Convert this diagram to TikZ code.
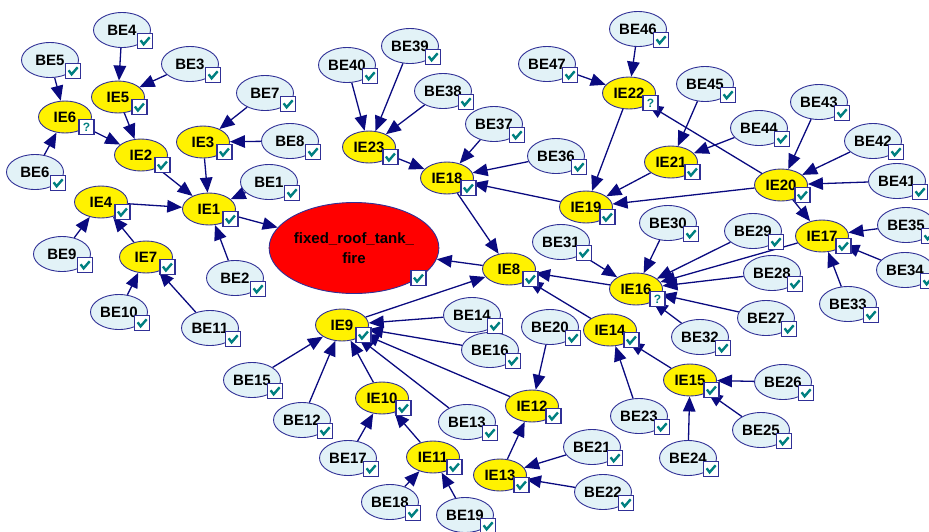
\documentclass[tikz,border=0pt]{standalone}
\usepackage{fontspec}
\setmainfont{Liberation Sans}
\usetikzlibrary{shapes.geometric,arrows.meta}
\definecolor{edgeblue}{RGB}{10,10,128}
\definecolor{rimblue}{RGB}{48,48,150}
\definecolor{befill}{RGB}{226,242,247}
\definecolor{tickteal}{RGB}{0,128,128}

\begin{document}
\begin{tikzpicture}[x=1pt,y=-1pt,
    be/.style={ellipse, draw=rimblue, fill=befill, line width=0.9pt, inner sep=0pt,
      minimum width=57pt, minimum height=35pt, font=\fontsize{15}{18}\selectfont\bfseries},
    ie/.style={be, fill=yellow, minimum width=53pt, minimum height=32pt},
    top/.style={be, fill=red, minimum width=148pt, minimum height=91pt, align=center,
      font=\fontsize{15}{20}\selectfont\bfseries},
    edge/.style={draw=edgeblue, line width=1.3pt, -{Triangle[length=15pt,width=12.5pt]}},
    okbox/.style={draw=rimblue, fill=white, line width=1.2pt, minimum size=15pt, inner sep=0pt,
      path picture={\draw[tickteal, line width=2.4pt]
        ([xshift=-4.5pt,yshift=0.5pt]path picture bounding box.center)
        -- ++(3pt,-4pt) -- ++(6pt,7pt);}},
    askbox/.style={draw=rimblue, fill=white, line width=1.2pt, minimum size=15pt, inner sep=0pt,
      text=tickteal, font=\fontsize{12}{12}\selectfont\bfseries}]
    \useasboundingbox (0,0) rectangle (929,531);

    \node[top] (fire) at (354,248) {fixed\_roof\_tank\_\\fire};

    \node[ie] (ie1) at (209,209) {IE1};
    \node[ie] (ie2) at (141,155) {IE2};
    \node[ie] (ie3) at (203,142) {IE3};
    \node[ie] (ie4) at (101,202) {IE4};
    \node[ie] (ie5) at (118,97) {IE5};
    \node[ie] (ie6) at (65,117) {IE6};
    \node[ie] (ie7) at (146,257) {IE7};
    \node[ie] (ie8) at (509,269) {IE8};
    \node[ie] (ie9) at (342,325) {IE9};
    \node[ie] (ie10) at (382,398) {IE10};
    \node[ie] (ie11) at (433,457) {IE11};
    \node[ie] (ie12) at (532,406) {IE12};
    \node[ie] (ie13) at (500,475) {IE13};
    \node[ie] (ie14) at (610,330) {IE14};
    \node[ie] (ie15) at (690,380) {IE15};
    \node[ie] (ie16) at (636,289) {IE16};
    \node[ie] (ie17) at (822,236) {IE17};
    \node[ie] (ie18) at (447,178) {IE18};
    \node[ie] (ie19) at (586,207) {IE19};
    \node[ie] (ie20) at (781,185) {IE20};
    \node[ie] (ie21) at (671,162) {IE21};
    \node[ie] (ie22) at (629,93) {IE22};
    \node[ie] (ie23) at (369,147) {IE23};

    \node[be] (be1) at (269,182) {BE1};
    \node[be] (be2) at (235,278) {BE2};
    \node[be] (be3) at (190,64) {BE3};
    \node[be] (be4) at (122,30) {BE4};
    \node[be] (be5) at (50,60) {BE5};
    \node[be] (be6) at (35,172) {BE6};
    \node[be] (be7) at (265,93) {BE7};
    \node[be] (be8) at (290,141) {BE8};
    \node[be] (be9) at (62,254) {BE9};
    \node[be] (be10) at (119,312) {BE10};
    \node[be] (be11) at (210,328) {BE11};
    \node[be] (be12) at (302,420) {BE12};
    \node[be] (be13) at (467,422) {BE13};
    \node[be] (be14) at (472,315) {BE14};
    \node[be] (be15) at (252,380) {BE15};
    \node[be] (be16) at (490,350) {BE16};
    \node[be] (be17) at (348,458) {BE17};
    \node[be] (be18) at (390,502) {BE18};
    \node[be] (be19) at (465,515) {BE19};
    \node[be] (be20) at (550,327) {BE20};
    \node[be] (be21) at (592,447) {BE21};
    \node[be] (be22) at (603,492) {BE22};
    \node[be] (be23) at (639,416) {BE23};
    \node[be] (be24) at (688,458) {BE24};
    \node[be] (be25) at (761,430) {BE25};
    \node[be] (be26) at (783,382) {BE26};
    \node[be] (be27) at (766,318) {BE27};
    \node[be] (be28) at (772,273) {BE28};
    \node[be] (be29) at (753,231) {BE29};
    \node[be] (be30) at (668,223) {BE30};
    \node[be] (be31) at (561,242) {BE31};
    \node[be] (be32) at (700,337) {BE32};
    \node[be] (be33) at (848,304) {BE33};
    \node[be] (be34) at (905,270) {BE34};
    \node[be] (be35) at (906,225) {BE35};
    \node[be] (be36) at (556,156) {BE36};
    \node[be] (be37) at (494,124) {BE37};
    \node[be] (be38) at (443,91) {BE38};
    \node[be] (be39) at (410,46) {BE39};
    \node[be] (be40) at (347,65) {BE40};
    \node[be] (be41) at (897,181) {BE41};
    \node[be] (be42) at (873,141) {BE42};
    \node[be] (be43) at (819,102) {BE43};
    \node[be] (be44) at (759,128) {BE44};
    \node[be] (be45) at (705,84) {BE45};
    \node[be] (be46) at (638,29) {BE46};
    \node[be] (be47) at (547,64) {BE47};

    \draw[edge] (be4) -- (ie5);
    \draw[edge] (be3) -- (ie5);
    \draw[edge] (be5) -- (ie6);
    \draw[edge] (be6) -- (ie6);
    \draw[edge] (ie5) -- (ie2);
    \draw[edge] (ie6) -- (ie2);
    \draw[edge] (ie2) -- (ie1);
    \draw[edge] (be7) -- (ie3);
    \draw[edge] (be8) -- (ie3);
    \draw[edge] (ie3) -- (ie1);
    \draw[edge] (be1) -- (ie1);
    \draw[edge] (ie4) -- (ie1);
    \draw[edge] (be2) -- (ie1);
    \draw[edge] (be9) -- (ie4);
    \draw[edge] (ie7) -- (ie4);
    \draw[edge] (be10) -- (ie7);
    \draw[edge] (be11) -- (ie7);
    \draw[edge] (ie1) -- (fire);
    \draw[edge] (ie8) -- (fire);

    \draw[edge] (ie18) -- (ie8);
    \draw[edge] (ie9) -- (ie8);
    \draw[edge] (ie16) -- (ie8);
    \draw[edge] (ie14) -- (ie8);

    \draw[edge] (be40) -- (ie23);
    \draw[edge] (be39) -- (ie23);
    \draw[edge] (be38) -- (ie23);
    \draw[edge] (ie23) -- (ie18);
    \draw[edge] (be37) -- (ie18);
    \draw[edge] (be36) -- (ie18);
    \draw[edge] (ie19) -- (ie18);
    \draw[edge] (be47) -- (ie22);
    \draw[edge] (be46) -- (ie22);
    \draw[edge] (ie22) -- (ie19);
    \draw[edge] (ie21) -- (ie19);
    \draw[edge] (ie20) -- (ie19);
    \draw[edge] (ie20) -- (ie22);
    \draw[edge] (be45) -- (ie21);
    \draw[edge] (be44) -- (ie21);
    \draw[edge] (be43) -- (ie20);
    \draw[edge] (be42) -- (ie20);
    \draw[edge] (be41) -- (ie20);
    \draw[edge] (ie20) -- (ie17);

    \draw[edge] (ie17) -- (ie16);
    \draw[edge] (be35) -- (ie17);
    \draw[edge] (be34) -- (ie17);
    \draw[edge] (be33) -- (ie17);
    \draw[edge] (be30) -- (ie16);
    \draw[edge] (be29) -- (ie16);
    \draw[edge] (be28) -- (ie16);
    \draw[edge] (be27) -- (ie16);
    \draw[edge] (be32) -- (ie16);
    \draw[edge] (be31) -- (ie16);

    \draw[edge] (ie15) -- (ie14);
    \draw[edge] (be26) -- (ie15);
    \draw[edge] (be25) -- (ie15);
    \draw[edge] (be24) -- (ie15);
    \draw[edge] (be23) -- (ie14);

    \draw[edge] (be20) -- (ie12);
    \draw[edge] (ie12) -- (ie9);
    \draw[edge] (ie13) -- (ie12);
    \draw[edge] (be21) -- (ie13);
    \draw[edge] (be22) -- (ie13);
    \draw[edge] (be14) -- (ie9);
    \draw[edge] (be16) -- (ie9);
    \draw[edge] (be15) -- (ie9);
    \draw[edge] (be12) -- (ie9);
    \draw[edge] (ie10) -- (ie9);
    \draw[edge] (be13) -- (ie9);
    \draw[edge] (be17) -- (ie10);
    \draw[edge] (ie11) -- (ie10);
    \draw[edge] (be18) -- (ie11);
    \draw[edge] (be19) -- (ie11);

    \foreach \n in {fire,ie1,ie2,ie3,ie4,ie5,ie7,ie8,ie9,ie10,ie11,ie12,ie13,ie14,ie15,
      ie17,ie18,ie19,ie20,ie21,ie23}
      \node[okbox] at (\n.-25) {};
    \foreach \n in {1,...,47}
      \node[okbox] at (be\n.-25) {};
    \foreach \n in {ie6,ie16,ie22}
      \node[askbox] at (\n.-25) {?};
  \end{tikzpicture}
\end{document}
